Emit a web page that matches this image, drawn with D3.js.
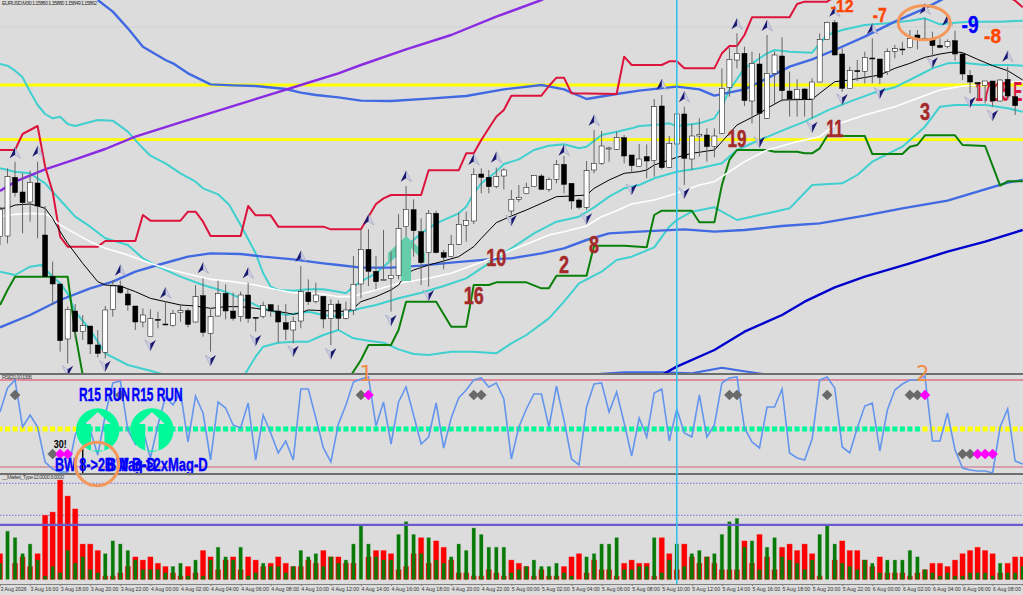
<!DOCTYPE html>
<html>
<head>
<meta charset="utf-8">
<script src="https://cdn.jsdelivr.net/npm/d3@7"></script>
<style>
  html, body { margin: 0; padding: 0; background: #dcdcdc; overflow: hidden; }
  svg { display: block; }
</style>
</head>
<body>
<div id="chart"></div>
<script>
//candles, prices are in chart points
var opens = [415,417,593,549,519,576,420,295,273,108,192,130,147,90,68,197,267,243,207,159,115,167,153,148,187,193,159,238,125,177,245,192,175,240,173,175,211,192,157,135,162,248,220,236,170,213,170,195,273,377,311,287,290,299,445,496,430,367,485,367,355,392,449,462,603,593,565,597,492,527,545,565,597,557,587,632,575,525,503,615,635,680,677,712,660,626,655,643,807,623,693,783,648,717,720,685,725,863,945,965,822,933,770,905,957,852,828,858,828,879,1007,1057,963,860,913,911,951,948,910,971,978,982,1020,1010,1009,989,985,1003,963,899,877,868,882,822,887,835];
var highs = [505,620,640,605,613,640,507,340,273,205,213,180,147,135,207,285,283,260,207,200,197,190,220,195,213,200,270,290,200,283,272,247,250,277,173,220,213,210,213,175,327,287,277,236,227,225,220,357,437,437,357,435,370,483,567,527,470,495,493,375,420,487,490,620,620,615,622,620,555,570,577,598,603,593,645,657,575,530,642,735,732,685,730,720,660,693,692,828,840,717,785,805,753,770,740,740,920,982,1025,985,970,965,1020,970,1013,910,887,860,890,1025,1060,1065,980,925,945,970,1010,948,980,990,1000,1035,1035,1070,1030,1010,1007,1033,965,915,877,882,882,887,925,840];
var lows = [390,395,535,425,460,410,295,210,70,35,110,105,63,53,50,175,243,193,135,143,115,140,150,145,160,143,157,115,70,175,167,163,160,157,130,170,175,97,105,95,140,210,215,140,90,135,167,180,230,267,257,285,190,287,415,355,270,265,365,317,353,390,400,453,545,545,560,557,480,519,545,565,555,550,575,545,497,497,495,605,630,640,675,635,605,625,590,595,617,622,665,570,615,655,640,653,723,835,920,807,755,700,768,813,820,775,775,775,770,878,1007,959,850,860,882,875,875,873,900,950,960,980,977,1007,955,980,980,943,885,845,825,815,805,820,825,780];
var closes = [497,595,547,517,578,507,295,273,103,197,130,148,93,65,195,267,247,210,159,180,169,166,152,185,193,152,235,128,175,245,192,170,240,170,170,208,192,159,137,161,250,220,240,168,212,170,195,272,377,311,280,287,299,439,497,433,337,485,367,353,392,452,463,602,593,565,595,615,527,533,563,598,557,587,632,572,522,503,613,635,687,681,712,657,628,648,642,805,622,695,783,650,717,722,685,717,860,947,965,823,935,785,905,960,853,828,857,828,879,1007,1058,960,860,913,912,953,950,893,970,979,977,1010,1010,1009,988,983,1001,963,903,879,873,882,822,885,837,808];

//horizontal price levels
var yellowLevels = [870, 706];
var faintLevel = 1044;
var cursorBar = 90;

//price panel lines, pairs of [bar, price]
var redLine = [[0,675],[2,675],[3,723],[5,747],[6,625],[7,550],[8,415],[9,385],[13,385],[14,402],[18,402],[19,480],[20,463],[24,463],[25,490],[26,490],[27,460],[28,417],[32,417],[33,507],[34,479],[36,479],[37,445],[43,445],[44,437],[48,437],[49,475],[50,513],[51,530],[52,540],[56,540],[57,614],[61,614],[62,665],[63,665],[64,705],[65,740],[66,775],[67,795],[68,838],[72,838],[73,867],[74,892],[75,892],[76,845],[82,843],[83,955],[84,930],[88,930],[89,941],[90,941],[91,920],[95,920],[96,965],[97,987],[98,987],[99,1020],[100,1073],[105,1073],[106,1113],[107,1120],[110,1120],[111,1135],[134,1135],[135,1123],[136,1103]];
var blackLine = [[0,500],[1,501],[2,510],[4,513],[5,507],[6,500],[7,470],[8,430],[9,395],[11,335],[13,280],[14,270],[16,267],[18,250],[20,230],[22,220],[24,210],[26,207],[28,200],[30,205],[32,205],[34,200],[36,193],[38,187],[39,182],[40,187],[41,195],[43,193],[45,192],[46,190],[47,200],[48,220],[50,235],[52,255],[53,270],[54,303],[55,315],[57,330],[59,342],[61,355],[63,385],[64,410],[66,457],[68,477],[70,495],[72,515],[74,535],[76,537],[78,540],[79,560],[81,585],[83,605],[85,610],[86,615],[87,630],[89,645],[90,653],[92,665],[95,675],[96,700],[98,750],[100,773],[101,785],[102,800],[104,825],[108,827],[109,845],[111,880],[113,885],[117,900],[119,920],[121,935],[123,953],[125,963],[127,970],[128,967],[130,947],[132,928],[134,913],[136,885]];
var whiteLine = [[0,475],[2,482],[4,485],[6,483],[7,470],[8,450],[10,425],[12,400],[14,380],[17,360],[20,335],[22,320],[25,303],[28,287],[31,280],[34,270],[37,255],[39,247],[41,245],[43,243],[45,235],[47,235],[48,243],[50,255],[53,275],[57,290],[60,305],[63,330],[66,355],[68,375],[70,392],[73,420],[75,430],[78,447],[80,475],[82,493],[84,513],[87,525],[90,545],[93,570],[95,580],[97,610],[99,640],[102,675],[106,700],[109,715],[111,750],[115,780],[119,805],[122,830],[125,855],[128,867],[130,870],[132,875],[136,880]];
var cyanUpper = [[0,933],[1,928],[2,913],[3,893],[4,850],[5,810],[6,783],[7,770],[8,775],[9,753],[10,747],[11,753],[13,765],[15,763],[17,730],[19,680],[20,658],[22,635],[24,605],[26,580],[27,560],[29,542],[30.5,510],[32,450],[34,365],[35,305],[36,265],[37,255],[39,253],[41,257],[43,257],[45,250],[46,245],[47,265],[48,280],[50,305],[56,425],[58,455],[61,485],[62,505],[63,545],[64,575],[66,610],[67,633],[69,647],[71,675],[73,688],[75,692],[77,680],[78,685],[80,720],[82,730],[84,740],[85,747],[87,750],[89,755],[90,747],[93,755],[95,770],[96,805],[97,855],[99,920],[102,965],[103,975],[105,970],[108,967],[109,995],[110,1020],[112,1035],[115,1050],[118,1055],[121,1063],[123,1070],[125,1052],[127,1057],[129,1060],[133,1060],[136,1063]];
var cyanMiddle = [[0,620],[2,610],[4,605],[6,575],[8,525],[10,475],[12,445],[14,410],[17,390],[19,350],[21,325],[24,295],[27,270],[30,250],[33,220],[35,200],[38,180],[41,190],[43,180],[45,175],[46,188],[48,200],[50,210],[53,230],[56,247],[59,267],[62,290],[65,335],[68,380],[71,425],[74,460],[77,475],[79,503],[81,535],[83,560],[85,570],[87,590],[90,610],[93,620],[96,635],[98,675],[101,705],[104,733],[107,760],[110,793],[113,820],[116,845],[119,863],[122,897],[124,920],[126,935],[128,937],[131,930],[134,930],[136,928]];
var cyanLower = [[0,310],[2,300],[4,325],[5.5,330],[7,295],[8,275],[9,245],[10,190],[12,135],[14,65],[17,30],[20,13],[22,0],[27,-50],[32.5,0],[34,55],[35,85],[37,97],[39,100],[41,100],[43,120],[45,135],[47,110],[49,103],[51,97],[53,77],[55,63],[57,60],[60,70],[63,70],[66,65],[68,95],[70,120],[73,170],[75,220],[77,275],[80,310],[82,345],[84,355],[87,383],[89,445],[90,465],[92,490],[95,503],[98,465],[101,480],[103,490],[105,500],[108,570],[112,575],[114,600],[116,640],[120,685],[123,745],[125,805],[127,810],[131,810],[134,800],[136,790]];
var blueUpper = [[13,1125],[15,1090],[17,1040],[19,985],[22,945],[23,935],[25,905],[28,872],[31,869],[34,867],[38,858],[40,847],[42,840],[45,833],[48,823],[52,822],[57,829],[62,837],[67,857],[72,870],[75,857],[78,828],[82,843],[85,853],[90,865],[93,857],[95,838],[99,857],[102,890],[105,925],[108,947],[111,975],[115,1015],[119,1060],[123,1100],[126,1135]];
var blueLower = [[0,143],[4,180],[8,225],[12,260],[15,280],[18,310],[21,330],[25,355],[28,365],[32,363],[35,355],[39,347],[43,335],[45,330],[48,322],[52,322],[56,328],[60,337],[65,347],[68,350],[72,365],[75,380],[78,405],[81,425],[85,430],[91,437],[95,430],[99,435],[104,447],[109,455],[115,478],[120,500],[126,523],[130,550],[134,577],[136,585]];
var greenLine = [[0,210],[1,255],[2,295],[9,295],[10,125],[11,0],[12,-50],[46,-50],[46.7,0],[48,45],[49,90],[52,90],[53,135],[54,220],[58,220],[60,145],[62,145],[63,270],[65,270],[66,278],[70,278],[72,260],[73,260],[74,298],[78,298],[79,388],[83,388],[86,383],[87,480],[88,493],[92,493],[93,458],[95,458],[96,570],[97,645],[98,675],[102,675],[103,670],[106,670],[107,665],[108,665],[109,680],[110,717],[115,717],[116,663],[120,663],[121,685],[122,690],[123,719],[127,719],[128,690],[131,687],[133,568],[134,581],[136,581]];
var purpleLine = [[0,552],[2,580],[6,617],[10,647],[14,678],[18,715],[24,758],[30,800],[36,842],[40,870],[45,905],[48,930],[54,977],[60,1020],[66,1075],[72,1125],[74,1145]];
var darkBlueLine = [[88,0],[90,25],[95,75],[99,130],[104,180],[107,220],[111,263],[115,295],[121,335],[126,370],[131,400],[136,435]];
var lowBump = [[79.5,3],[83,8],[88,8],[92,5],[96,22],[98.5,13],[101.5,3]];

//fractal arrows, pairs of [bar, price]
var upArrows = [[2,665],[5,670],[16,313],[22,245],[27,320],[33,305],[40,355],[49,465],[54,595],[63,645],[66,652],[75,673],[79,763],[88,870],[91,833],[98,1052],[102,1047],[111,1090],[116,1037],[123,1097],[126,1063],[134,955]];
var downArrows = [[9,13],[14,28],[20,90],[28,45],[34,105],[39,73],[44,65],[52,165],[57,240],[68,465],[78,470],[84,558],[91,547],[101,700],[108,745],[112,828],[117,847],[124,938],[129,820],[132,780]];

//numbers written on the price panel
var countLabels = ["10","2","8","16","19","11","3"];
var countBars = [66,75,79,63,98,111,123];
var countPrices = [353,332,392,238,710,740,792];
var countLengths = [20,10,10,20,19,17,10];
var signedLabels = ["-12","-7","-8","-9"];
var signedBars = [112,117,132,129];
var signedPrices = [1106,1082,1018,1052];
var signedSizes = [17,20,21,23];
var signedLengths = [23,14,17,17];
var signedColors = ["#ff4500","#ff4500","#ff4500","#0000ff"];

//RSI values per bar
var rsiValues = [62,86,94,47,59,47,12,5,2,2,39,54,44,19,59,91,93,44,30,44,16,49,77,69,82,32,78,61,14,72,66,49,46,71,14,59,41,21,33,14,85,85,56,26,12,50,69,92,95,97,48,72,30,72,87,59,30,37,71,26,56,76,84,94,96,87,91,75,15,47,65,80,80,47,88,54,15,9,67,90,91,62,82,51,18,56,37,81,85,33,65,41,37,79,37,49,91,96,97,46,32,26,67,67,85,21,16,14,35,94,97,86,27,21,46,68,71,23,64,84,90,94,94,98,33,33,61,24,6,4,3,3,1,47,65,13,10];
var rsiLevels = [94, 7];
var signalLevel = 45;
var firstGreenBar = 11;
var lastGreenBar = 122;
var grayUpper = [2,16,48,63,64,97,98,110,121,122];
var pinkUpper = [49,123];
var grayLower = [7,128,129];
var pinkLower = [8,9,130,131,132];

//Market_Type histogram, steps per bar
var redBars = [8,0,5,7,4,8,20,21,31,26,22,11,11,9,1,1,2,4,7,6,7,5,4,2,1,4,2,9,7,3,6,7,3,7,6,4,5,7,5,4,4,6,5,9,7,7,5,5,0,7,9,9,8,3,4,8,13,5,12,10,6,2,2,1,1,3,2,1,6,5,4,1,3,1,1,4,7,8,2,6,3,3,1,5,6,5,5,1,13,8,3,11,7,5,7,5,3,3,3,12,5,14,7,3,10,11,9,11,8,1,0,6,12,9,9,6,4,7,2,2,2,1,2,3,5,5,4,6,8,9,10,9,8,2,5,7,7];
var greenBars = [5,15,13,8,11,6,1,4,2,9,5,7,3,2,8,12,11,9,6,3,3,3,2,4,5,1,6,1,6,10,7,6,10,1,2,5,4,4,2,4,9,7,8,4,7,5,6,11,17,11,7,6,6,14,18,14,8,13,6,5,7,11,9,16,14,10,10,10,2,3,4,6,4,4,5,2,1,0,7,8,11,11,13,3,3,4,4,13,2,6,11,4,8,9,7,8,14,18,19,10,12,3,10,13,7,6,5,3,6,14,17,11,5,4,3,6,5,2,6,6,6,9,7,3,2,1,2,1,1,2,2,2,1,5,2,2,4];
var marketLevels = [30, 20];
var marketBase = 17;

//time labels, one every fourth bar
var tickLabels = ["3 Aug 2026","3 Aug 16:00","3 Aug 18:00","3 Aug 20:00","3 Aug 22:00","4 Aug 00:00","4 Aug 02:00","4 Aug 04:00","4 Aug 06:00","4 Aug 08:00","4 Aug 10:00","4 Aug 12:00","4 Aug 14:00","4 Aug 16:00","4 Aug 18:00","4 Aug 20:00","4 Aug 22:00","5 Aug 00:00","5 Aug 02:00","5 Aug 04:00","5 Aug 06:00","5 Aug 08:00","5 Aug 10:00","5 Aug 12:00","5 Aug 14:00","5 Aug 16:00","5 Aug 18:00","5 Aug 20:00","5 Aug 22:00","6 Aug 00:00","6 Aug 02:00","6 Aug 04:00","6 Aug 06:00","6 Aug 08:00"];

var svgWidth = 1023;
var svgHeight = 595;
var heavyFont = "'Liberation Sans', sans-serif";

var svg = d3.select("#chart").append("svg")
    .attr("width", svgWidth)
    .attr("height", svgHeight);

svg.append("rect")
    .attr("width", svgWidth)
    .attr("height", svgHeight)
    .attr("fill", "#dcdcdc");

svg.append("clipPath").attr("id", "priceClip").append("rect")
    .attr("width", svgWidth).attr("height", 373);
svg.append("clipPath").attr("id", "marketClip").append("rect")
    .attr("y", 475).attr("width", svgWidth).attr("height", 108);

// Create scale functions
var x = d3.scaleLinear().domain([0, 136]).range([0, 1022.7]);
var yPrice = d3.scaleLinear().domain([0, 1125]).range([375, 0]);
var yRsi = d3.scaleLinear().domain([0, 100]).range([474, 374]);
var yMarket = d3.scaleLinear().domain([0, 30]).range([579.3, 483.3]);

var priceLine = d3.line().x(d => x(d[0])).y(d => yPrice(d[1]));
var price = svg.append("g").attr("clip-path", "url(#priceClip)");

function drawLine(points, color, width) {
    price.append("path")
        .attr("d", priceLine(points))
        .attr("fill", "none")
        .attr("stroke", color)
        .attr("stroke-width", width)
        .attr("stroke-linejoin", "round");
}

// Price panel levels
price.append("line")
    .attr("x2", svgWidth)
    .attr("y1", yPrice(faintLevel))
    .attr("y2", yPrice(faintLevel))
    .attr("stroke", "#d0d0d0");

price.selectAll(".level")
    .data(yellowLevels)
    .enter()
    .append("line")
    .attr("class", "level")
    .attr("x2", svgWidth)
    .attr("y1", d => yPrice(d))
    .attr("y2", d => yPrice(d))
    .attr("stroke", "#ffff00")
    .attr("stroke-width", 2.8);

// Indicator lines
drawLine(cyanUpper, "#3fd0cf", 2);
drawLine(cyanMiddle, "#3fd0cf", 2);
drawLine(cyanLower, "#3fd0cf", 2);
drawLine(blueUpper, "#4169e1", 2.4);
drawLine(blueLower, "#4169e1", 2.4);
drawLine(lowBump, "#4169e1", 2);
drawLine(darkBlueLine, "#0000cd", 2.4);
drawLine(purpleLine, "#8a2be2", 2.4);
drawLine(redLine, "#dc143c", 2);
drawLine(greenLine, "#0a800a", 2);
drawLine(whiteLine, "#ffffff", 1.6);
drawLine(blackLine, "#000000", 1);

// Teal arrow sits behind the candles
var tealArrow = [[-18,17],[0,0],[19,17],[19,27],[5,12],[5,45],[-5,45],[-5,12],[-18,29]];
price.append("polygon")
    .attr("points", tealArrow.map(d => [x(54) + d[0], yPrice(417) + d[1]].join(",")).join(" "))
    .attr("fill", "#66cdaa");

price.append("text")
    .attr("x", x(129.7))
    .attr("y", yPrice(850))
    .attr("dy", "0.36em")
    .attr("font-family", heavyFont)
    .attr("font-weight", "bold")
    .attr("font-size", 27)
    .attr("textLength", 47)
    .attr("lengthAdjust", "spacingAndGlyphs")
    .attr("fill", "#dc143c")
    .text("17/15 E");

// Candles
var barIndex = d3.range(opens.length);

price.selectAll(".wick")
    .data(barIndex)
    .enter()
    .append("line")
    .attr("class", "wick")
    .attr("x1", d => x(d))
    .attr("x2", d => x(d))
    .attr("y1", d => yPrice(highs[d]))
    .attr("y2", d => yPrice(lows[d]))
    .attr("stroke", "#666666");

price.selectAll(".body")
    .data(barIndex)
    .enter()
    .append("rect")
    .attr("class", "body")
    .attr("x", d => x(d) - 2.5)
    .attr("width", 5)
    .attr("y", d => yPrice(Math.max(opens[d], closes[d])))
    .attr("height", d => Math.max(yPrice(Math.min(opens[d], closes[d])) - yPrice(Math.max(opens[d], closes[d])), 1))
    .attr("fill", d => closes[d] >= opens[d] ? "#ffffff" : "#000000")
    .attr("stroke", "#000000")
    .attr("stroke-width", 0.5);

// Fractal arrows, dark left wing and pale right wing
function drawArrows(points, turn) {
    var arrow = price.selectAll(".arrow" + turn)
        .data(points)
        .enter()
        .append("g")
        .attr("transform", d => `translate(${x(d[0])}, ${yPrice(d[1])}) rotate(${turn})`);
    arrow.append("path")
        .attr("d", "M0,-6L5.5,5L0,1.5Z")
        .attr("fill", "#cfd0e4")
        .attr("stroke", "#8f90b8")
        .attr("stroke-width", 0.5);
    arrow.append("path")
        .attr("d", "M0,-6L-5.5,5L0,1.5Z")
        .attr("fill", "#191970");
}
drawArrows(upArrows, 0);
drawArrows(downArrows, 180);

// Numbers on the price panel
price.selectAll(".count")
    .data(countLabels)
    .enter()
    .append("text")
    .attr("class", "count")
    .attr("x", (d, i) => x(countBars[i]))
    .attr("y", (d, i) => yPrice(countPrices[i]))
    .attr("dy", "0.36em")
    .attr("text-anchor", "middle")
    .attr("font-family", heavyFont)
    .attr("font-weight", "bold")
    .attr("font-size", 24)
    .attr("textLength", (d, i) => countLengths[i])
    .attr("lengthAdjust", "spacingAndGlyphs")
    .attr("fill", "#a52a2a")
    .attr("stroke", "#a52a2a")
    .attr("stroke-width", 0.5)
    .text(d => d);

price.selectAll(".signed")
    .data(signedLabels)
    .enter()
    .append("text")
    .attr("class", "signed")
    .attr("x", (d, i) => x(signedBars[i]))
    .attr("y", (d, i) => yPrice(signedPrices[i]))
    .attr("dy", "0.36em")
    .attr("text-anchor", "middle")
    .attr("font-family", heavyFont)
    .attr("font-weight", "bold")
    .attr("font-size", (d, i) => signedSizes[i])
    .attr("textLength", (d, i) => signedLengths[i])
    .attr("lengthAdjust", "spacingAndGlyphs")
    .attr("fill", (d, i) => signedColors[i])
    .attr("stroke", (d, i) => signedColors[i])
    .attr("stroke-width", 0.4)
    .text(d => d);

price.append("text")
    .attr("x", 2)
    .attr("y", 4.5)
    .attr("font-family", "'Liberation Sans', sans-serif")
    .attr("font-size", 5.5)
    .attr("textLength", 95)
    .attr("fill", "#333333")
    .text("EURUSD,M30 1.15860 1.15880 1.15849 1.15862");

// RSI panel
svg.selectAll(".rsiLevel")
    .data(rsiLevels)
    .enter()
    .append("line")
    .attr("class", "rsiLevel")
    .attr("x2", svgWidth)
    .attr("y1", d => yRsi(d))
    .attr("y2", d => yRsi(d))
    .attr("stroke", (d, i) => i == 0 ? "#e0365e" : "#cf6678")
    .attr("stroke-width", 1.2);

svg.selectAll(".signal")
    .data(d3.range(rsiValues.length))
    .enter()
    .append("rect")
    .attr("class", "signal")
    .attr("x", d => x(d) - 2.5)
    .attr("y", yRsi(signalLevel) - 2.5)
    .attr("width", 5)
    .attr("height", 5)
    .attr("fill", d => d >= firstGreenBar && d <= lastGreenBar ? "#00fa9a" : "#ffff00");

var rsiLine = d3.line().x((d, i) => x(i)).y(d => yRsi(d));

svg.append("path")
    .attr("d", rsiLine(rsiValues))
    .attr("fill", "none")
    .attr("stroke", "#6495ed")
    .attr("stroke-width", 1.6);

function drawDiamonds(bars, level, color) {
    svg.selectAll(".diamond" + color.slice(1) + level)
        .data(bars)
        .enter()
        .append("path")
        .attr("d", d3.symbol().type(d3.symbolSquare).size(56))
        .attr("transform", d => `translate(${x(d)}, ${yRsi(level)}) rotate(45)`)
        .attr("fill", color);
}
drawDiamonds(grayUpper, 79, "#696969");
drawDiamonds(pinkUpper, 79, "#ff00ff");
drawDiamonds(grayLower, 20, "#696969");
drawDiamonds(pinkLower, 20, "#ff00ff");

// Green run icons with the arrow cut out of the disc
var iconPath = "M-21.7,0A21.7,21.7,0,1,1,21.7,0A21.7,21.7,0,1,1,-21.7,0Z"
    + "M0,-18L13,-6L6.7,-6L6.7,20.6L-6.7,20.6L-6.7,-6L-13,-6Z";
svg.selectAll(".icon")
    .data([13, 20.2])
    .enter()
    .append("path")
    .attr("class", "icon")
    .attr("d", iconPath)
    .attr("fill-rule", "evenodd")
    .attr("fill", "#00fa9a")
    .attr("transform", d => `translate(${x(d)}, ${yRsi(44)})`);

svg.append("line")
    .attr("x1", x(11))
    .attr("x2", x(11))
    .attr("y1", yRsi(27))
    .attr("y2", yRsi(0.5))
    .attr("stroke", "#000000")
    .attr("stroke-width", 1.4);

svg.append("text")
    .attr("x", x(8))
    .attr("y", yRsi(30))
    .attr("dy", "0.36em")
    .attr("text-anchor", "middle")
    .attr("font-family", heavyFont)
    .attr("font-weight", "bold")
    .attr("font-size", 11)
    .attr("textLength", 13)
    .attr("lengthAdjust", "spacingAndGlyphs")
    .attr("fill", "#000000")
    .text("30!");

var runBars = [10.5, 17.5];
svg.selectAll(".run")
    .data(runBars)
    .enter()
    .append("text")
    .attr("class", "run")
    .attr("x", d => x(d))
    .attr("y", yRsi(79))
    .attr("dy", "0.36em")
    .attr("font-family", heavyFont)
    .attr("font-weight", "bold")
    .attr("font-size", 18)
    .attr("textLength", 51)
    .attr("lengthAdjust", "spacingAndGlyphs")
    .attr("fill", "#0000ff")
    .attr("stroke", "#0000ff")
    .attr("stroke-width", 0.4)
    .text("R15 RUN");

var magTexts = ["BW 8->2B Mag-D", "BW B->2xMag-D"];
var magBars = [7.3, 14.2];
svg.selectAll(".mag")
    .data(magTexts)
    .enter()
    .append("text")
    .attr("class", "mag")
    .attr("x", (d, i) => x(magBars[i]))
    .attr("y", yRsi(9))
    .attr("dy", "0.36em")
    .attr("font-family", heavyFont)
    .attr("font-weight", "bold")
    .attr("font-size", 18)
    .attr("textLength", 101)
    .attr("lengthAdjust", "spacingAndGlyphs")
    .attr("fill", "#0000ff")
    .attr("stroke", "#0000ff")
    .attr("stroke-width", 0.4)
    .text(d => d);

// Market_Type panel
svg.selectAll(".marketLevel")
    .data(marketLevels)
    .enter()
    .append("line")
    .attr("class", "marketLevel")
    .attr("x2", svgWidth)
    .attr("y1", d => yMarket(d))
    .attr("y2", d => yMarket(d))
    .attr("stroke", "#5a5ad8")
    .attr("stroke-width", 0.8)
    .attr("stroke-dasharray", "1.5,1.5");

var market = svg.append("g").attr("clip-path", "url(#marketClip)");

market.selectAll(".redBar")
    .data(redBars)
    .enter()
    .append("rect")
    .attr("class", "redBar")
    .attr("x", (d, i) => x(i) - 2.6)
    .attr("width", 5.2)
    .attr("y", d => yMarket(d))
    .attr("height", d => yMarket(0) - yMarket(d))
    .attr("fill", "#ff0000")
    .attr("stroke", "#ff0000")
    .attr("stroke-opacity", 0.25);

market.selectAll(".greenBar")
    .data(greenBars)
    .enter()
    .append("rect")
    .attr("class", "greenBar")
    .attr("x", (d, i) => x(i) - 1.7)
    .attr("width", 3.4)
    .attr("y", d => yMarket(d))
    .attr("height", d => yMarket(0) - yMarket(d))
    .attr("fill", "#087a08")
    .attr("stroke", "#087a08")
    .attr("stroke-opacity", 0.25);

svg.append("line")
    .attr("x2", svgWidth)
    .attr("y1", yMarket(marketBase))
    .attr("y2", yMarket(marketBase))
    .attr("stroke", "#6a5acd")
    .attr("stroke-width", 2.2);

// Panel separators
[374, 474].forEach(function(sepY) {
    svg.append("line")
        .attr("x2", svgWidth)
        .attr("y1", sepY)
        .attr("y2", sepY)
        .attr("stroke", "#6e6e6e")
        .attr("stroke-width", 2);
});

// Panel captions
var captionTexts = ["RSI(21) 10.1336", "__Market_Type 12.0000 3.0000"];
var captionY = [378.5, 478.5];
var captionLength = [30, 62];
svg.selectAll(".caption")
    .data(captionTexts)
    .enter()
    .append("text")
    .attr("class", "caption")
    .attr("x", 2)
    .attr("y", (d, i) => captionY[i])
    .attr("font-family", "'Liberation Sans', sans-serif")
    .attr("font-size", 5.5)
    .attr("textLength", (d, i) => captionLength[i])
    .attr("fill", "#444444")
    .text(d => d);

// Create axis, labels start at their tick
var bottomAxis = d3.axisBottom(x)
    .tickValues(tickLabels.map((d, i) => i * 4))
    .tickSize(2)
    .tickFormat((d, i) => tickLabels[i]);

var axisGroup = svg.append("g")
    .attr("transform", "translate(0, 584)")
    .call(bottomAxis);

axisGroup.select(".domain").attr("stroke", "#808080");
axisGroup.selectAll("line").attr("stroke", "#808080");
axisGroup.selectAll("text")
    .attr("x", 0)
    .attr("y", 3)
    .attr("text-anchor", "start")
    .attr("font-family", "'Liberation Sans', sans-serif")
    .attr("font-size", 5.2)
    .attr("fill", "#333333");

// Cursor line through all panels
svg.append("line")
    .attr("x1", x(cursorBar))
    .attr("x2", x(cursorBar))
    .attr("y1", 0)
    .attr("y2", 584)
    .attr("stroke", "#35c0f0")
    .attr("stroke-width", 1.6);

// Hand drawn marks
svg.append("ellipse")
    .attr("cx", x(122.9))
    .attr("cy", yPrice(1057))
    .attr("rx", 26)
    .attr("ry", 17)
    .attr("fill", "none")
    .attr("stroke", "#f4975a")
    .attr("stroke-width", 3);

svg.append("circle")
    .attr("cx", x(12.9))
    .attr("cy", yRsi(10))
    .attr("r", 21.7)
    .attr("fill", "none")
    .attr("stroke", "#f4975a")
    .attr("stroke-width", 3);

var waveLabels = ["1", "2"];
var waveBars = [48.7, 122.7];
svg.selectAll(".wave")
    .data(waveLabels)
    .enter()
    .append("text")
    .attr("class", "wave")
    .attr("x", (d, i) => x(waveBars[i]))
    .attr("y", yRsi(93))
    .attr("text-anchor", "middle")
    .attr("font-family", "'DejaVu Sans', sans-serif")
    .attr("font-size", 21)
    .attr("fill", "#f08c4a")
    .text(d => d);
</script>
</body>
</html>
